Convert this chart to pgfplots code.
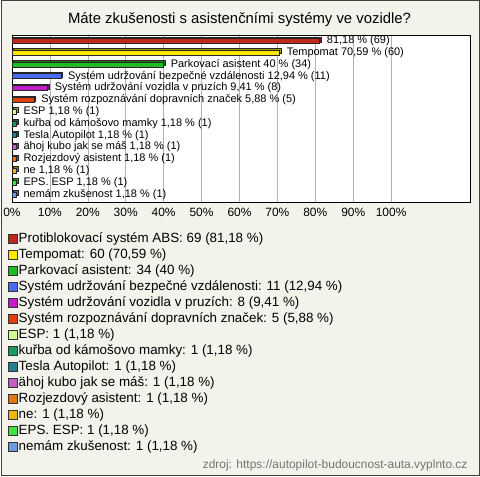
\documentclass[border=0pt]{standalone}
\usepackage{pgfplots}
\pgfplotsset{compat=1.18}
\usepackage{fontspec}
\setmainfont{Liberation Sans}
\definecolor{bgc}{HTML}{F4F3EB}
\definecolor{cA}{HTML}{C0281C}
\definecolor{cB}{HTML}{FFE800}
\definecolor{cC}{HTML}{22BB22}
\definecolor{cD}{HTML}{4A6CF0}
\definecolor{cE}{HTML}{C21BC9}
\definecolor{cF}{HTML}{E0400E}
\definecolor{cG}{HTML}{CCFF99}
\definecolor{cH}{HTML}{1A9A60}
\definecolor{cI}{HTML}{238090}
\definecolor{cJ}{HTML}{C060C0}
\definecolor{cK}{HTML}{E07818}
\definecolor{cL}{HTML}{E8B810}
\definecolor{cM}{HTML}{44E044}
\definecolor{cN}{HTML}{6A9AE0}
\pgfplotsset{
  sh/.style={forget plot, fill=#1!65!black, draw=black!85, line width=0.6pt, xshift=1.5pt, yshift=1.5pt, bar shift=0pt},
  mb/.style={fill=#1, draw=black!85, line width=0.6pt, bar shift=0pt, point meta=explicit symbolic, nodes near coords,
     legend image code/.code={\draw[fill=#1, draw=black!80, line width=0.7pt] (0pt,-4.5pt) rectangle (9pt,4.5pt);}},
}
\begin{document}
\begin{tikzpicture}
\fill[bgc] (0,0) rectangle (480pt,477pt);
\draw[black!75, line width=1pt] (0.5pt,0.5pt) rectangle (479.5pt,476.5pt);
\node[font=\fontsize{14.9}{17}\selectfont] at (239pt,457pt) {Máte zkušenosti s asistenčními systémy ve vozidle?};
\node[anchor=east, font=\fontsize{12}{14}\selectfont, text=black!55] at (471pt,11pt) {zdroj: https://autopilot-budoucnost-auta.vyplnto.cz};
\begin{axis}[
  at={(11pt,274pt)}, anchor=south west,
  width=459pt, height=168pt, scale only axis,
  axis background/.style={fill=white},
  xbar, bar width=5pt,
  xmin=0, xmax=120.8,
  ymin=-0.5, ymax=13.7, y dir=reverse,
  ytick=\empty,
  xtick={0,10,...,100},
  xticklabel={\pgfmathprintnumber{\tick}\%},
  /pgf/number format/assume math mode=true,
  xticklabel style={font=\fontsize{12}{14}\selectfont, yshift=-2pt},
  major tick length=0pt,
  xmajorgrids, grid style={black!30, line width=0.6pt},
  axis line style={black, line width=0.8pt},
  nodes near coords style={anchor=west, font=\fontsize{11}{12}\selectfont, xshift=3.5pt, text=black},
  legend style={at={(-0.009,-0.172)}, anchor=north west, draw=none, fill=none,
     font=\fontsize{13.4}{15}\selectfont, row sep=1pt, inner sep=0pt,
     nodes={inner sep=1pt, text height=10pt, text depth=3pt}},
  legend cell align=left,
]
\addplot[sh=cA] coordinates {(81.18,0)};
\addplot[mb=cA] coordinates {(81.18,0) [81,18 \% (69)]};
\addlegendentry{Protiblokovací systém ABS: 69 (81,18 \%)}
\addplot[sh=cB] coordinates {(70.59,1)};
\addplot[mb=cB] coordinates {(70.59,1) [Tempomat 70,59 \% (60)]};
\addlegendentry{Tempomat: 60 (70,59 \%)}
\addplot[sh=cC] coordinates {(40,2)};
\addplot[mb=cC] coordinates {(40,2) [Parkovací asistent 40 \% (34)]};
\addlegendentry{Parkovací asistent: 34 (40 \%)}
\addplot[sh=cD] coordinates {(12.94,3)};
\addplot[mb=cD] coordinates {(12.94,3) [Systém udržování bezpečné vzdálenosti 12,94 \% (11)]};
\addlegendentry{Systém udržování bezpečné vzdálenosti: 11 (12,94 \%)}
\addplot[sh=cE] coordinates {(9.41,4)};
\addplot[mb=cE] coordinates {(9.41,4) [Systém udržování vozidla v pruzích 9,41 \% (8)]};
\addlegendentry{Systém udržování vozidla v pruzích: 8 (9,41 \%)}
\addplot[sh=cF] coordinates {(5.88,5)};
\addplot[mb=cF] coordinates {(5.88,5) [Systém rozpoznávání dopravních značek 5,88 \% (5)]};
\addlegendentry{Systém rozpoznávání dopravních značek: 5 (5,88 \%)}
\addplot[sh=cG] coordinates {(1.18,6)};
\addplot[mb=cG] coordinates {(1.18,6) [ESP 1,18 \% (1)]};
\addlegendentry{ESP: 1 (1,18 \%)}
\addplot[sh=cH] coordinates {(1.18,7)};
\addplot[mb=cH] coordinates {(1.18,7) [kuřba od kámošovo mamky 1,18 \% (1)]};
\addlegendentry{kuřba od kámošovo mamky: 1 (1,18 \%)}
\addplot[sh=cI] coordinates {(1.18,8)};
\addplot[mb=cI] coordinates {(1.18,8) [Tesla Autopilot 1,18 \% (1)]};
\addlegendentry{Tesla Autopilot: 1 (1,18 \%)}
\addplot[sh=cJ] coordinates {(1.18,9)};
\addplot[mb=cJ] coordinates {(1.18,9) [ähoj kubo jak se máš 1,18 \% (1)]};
\addlegendentry{ähoj kubo jak se máš: 1 (1,18 \%)}
\addplot[sh=cK] coordinates {(1.18,10)};
\addplot[mb=cK] coordinates {(1.18,10) [Rozjezdový asistent 1,18 \% (1)]};
\addlegendentry{Rozjezdový asistent: 1 (1,18 \%)}
\addplot[sh=cL] coordinates {(1.18,11)};
\addplot[mb=cL] coordinates {(1.18,11) [ne 1,18 \% (1)]};
\addlegendentry{ne: 1 (1,18 \%)}
\addplot[sh=cM] coordinates {(1.18,12)};
\addplot[mb=cM] coordinates {(1.18,12) [EPS. ESP 1,18 \% (1)]};
\addlegendentry{EPS. ESP: 1 (1,18 \%)}
\addplot[sh=cN] coordinates {(1.18,13)};
\addplot[mb=cN] coordinates {(1.18,13) [nemám zkušenost 1,18 \% (1)]};
\addlegendentry{nemám zkušenost: 1 (1,18 \%)}
\end{axis}
\end{tikzpicture}
\end{document}
